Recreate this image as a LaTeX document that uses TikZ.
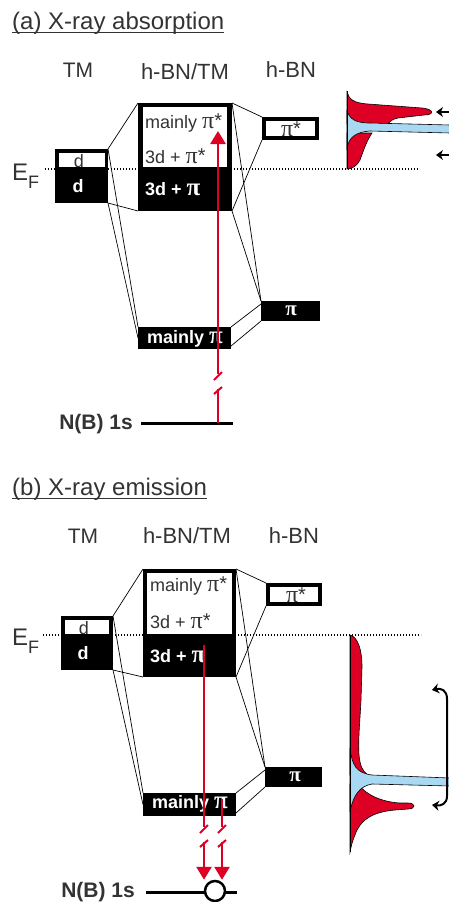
\documentclass[tikz,border=0pt]{standalone}
\usepackage{fontspec}
\setmainfont{Liberation Sans}
\newfontfamily\pifont{Liberation Serif}
\usetikzlibrary{arrows.meta}
\definecolor{xred}{RGB}{222,0,36}
\definecolor{xblue}{RGB}{168,216,242}
\definecolor{txt}{gray}{0.2}
\newcommand{\Fz}[1]{\fontsize{#1}{#1}\selectfont}
\newcommand{\PIs}{{\Fz{24}\pifont π}{\Fz{20}\raisebox{1pt}{*}}}
\newcommand{\PIb}{{\Fz{25}\pifont\bfseries π}}
\tikzset{
 bk/.style={fill=black, draw=none, inner sep=0pt, outer sep=0pt, anchor=north west},
 wh/.style={fill=white, draw=none, inner sep=0pt, outer sep=0pt, anchor=north west},
 conn/.style={line width=0.7pt, black},
 lbl/.style={inner sep=0pt, text=txt},
 wlbl/.style={inner sep=0pt, text=white},
 redl/.style={xred, line width=2.6pt},
 tickl/.style={xred, line width=2pt},
 redtip/.style={-{Triangle[length=13pt,width=15pt]}},
 spec/.style={draw=black, line width=0.6pt},
 ef/.style={line width=1.4pt, dash pattern=on 1.4pt off 1.6pt},
 blk/.style={line width=2.2pt, black, -{Stealth[length=7pt,width=10pt]}},
}
\begin{document}
\begin{tikzpicture}[x=1pt,y=-1pt]
\useasboundingbox (0,0) rectangle (448,902);

%================ (a) =================
\node[lbl, anchor=base west] (tA) at (12,29) {\Fz{24}(a) X-ray absorption};
\draw[txt, line width=0.9pt] ([yshift=-3pt]tA.base west) -- ([yshift=-3pt]tA.base east);
\node[lbl, anchor=base] (l1A) at (78,77) {\Fz{21}TM};
\node[lbl, anchor=base] (l2A) at (185,79) {\Fz{22}h-BN/TM};
\node[lbl, anchor=base] (l3A) at (291,77) {\Fz{22}h-BN};

\node[lbl, anchor=base west] (eA) at (12,180) {\Fz{24}E};
\node[lbl, anchor=base west] (fA) at (28,188) {\Fz{18}F};
\draw[ef] (45,169) -- (419,169);

% spectrum (a)
\fill[xred, spec] (347,92) .. controls (349,99) and (353,103) .. (368,104) -- (422,108)
  .. controls (434,109) and (435,115) .. (424,115) -- (398,118) .. controls (393,119) and (390,121) .. (388,124) -- (347,124) -- cycle;
\fill[xred, spec] (372,133) .. controls (366,142) and (363,152) .. (360,160) .. controls (357,166) and (352,169) .. (347,169) -- (347,133) -- cycle;
\fill[xblue, spec] (347,111) .. controls (350,119) and (355,123) .. (370,123) -- (450,125) -- (450,133) -- (370,131)
  .. controls (356,132) and (349,137) .. (347,148) -- cycle;
\draw[line width=1pt] (347,91) -- (347,169);
\draw[blk] (450,112) -- (436,112);
\draw[blk] (450,155) -- (436,155);

% boxes (a)
\node[bk, minimum width=53, minimum height=54] (tmA) at (55,149) {};
\node[wh, minimum width=46, minimum height=14] (tmAw) at (59,153) {};
\node[bk, minimum width=94, minimum height=108] (cA) at (138,103) {};
\node[wh, minimum width=84, minimum height=60] (cAw) at (143,107) {};
\node[bk, minimum width=57, minimum height=23] (psA) at (262,117) {};
\node[wh, minimum width=49, minimum height=15] (psAw) at (266,121) {};
\node[bk, minimum width=93, minimum height=22] (mpA) at (138,327) {};
\node[bk, minimum width=59, minimum height=20] (pA) at (261,301) {};

\node[lbl, anchor=base] (tdA) at (79,167) {\Fz{18}d};
\node[wlbl, anchor=base] (bdA) at (78,192) {\Fz{18}\bfseries d};
\node[lbl, anchor=base west] (c1A) at (145,128) {\Fz{18}mainly \PIs};
\node[lbl, anchor=base west] (c2A) at (145,163) {\Fz{18}3d + \PIs};
\node[wlbl, anchor=base west] (c3A) at (145,195) {\Fz{18}\bfseries 3d + \PIb};
\node[lbl, anchor=base] (psAt) at (291,136) {\Fz{18}\PIs};
\node[wlbl, anchor=base west] (mpAt) at (147,343) {\Fz{18}\bfseries mainly \PIb};
\node[wlbl, anchor=base] (pAt) at (291,315) {{\Fz{21}\pifont\bfseries π}};

\draw[conn] (tmA.north east) -- (cA.north west);
\draw[conn] (tmA.south east) -- (cA.south west);
\draw[conn] (cA.north east) -- (psA.north west);
\draw[conn] (cA.south east) -- (psA.south west);
\draw[conn] (tmA.north east) -- (mpA.north west);
\draw[conn] (tmA.south east) -- (mpA.west);
\draw[conn] (cA.north east) -- (pA.north west);
\draw[conn] (cA.south east) -- (pA.north west);
\draw[conn] (mpA.north east) -- ([yshift=-3pt]pA.north west);
\draw[conn] ([yshift=3pt]mpA.south east) -- (pA.south west);

% 1s (a)
\node[bk, minimum width=92, minimum height=3, anchor=west] (sA) at (141,423) {};
\node[wlbl, text=txt, anchor=base east] (sAt) at (133,429) {\Fz{21}\bfseries N(B) 1s};
\coordinate (aA0) at (218,423);
\coordinate (aA1) at (218,389);
\coordinate (aA2) at (218,374);
\coordinate (aA3) at (218,131);
\draw[redl] (aA0) -- (aA1);
\draw[redl, redtip] (aA2) -- (aA3);
\draw[tickl] (222,372) -- (214,380);
\draw[tickl] (214,394) -- (222,387);

%================ (b) =================
\node[lbl, anchor=base west] (tB) at (12,495) {\Fz{24}(b) X-ray emission};
\draw[txt, line width=0.9pt] ([yshift=-3pt]tB.base west) -- ([yshift=-3pt]tB.base east);
\node[lbl, anchor=base] (l1B) at (83,543) {\Fz{21}TM};
\node[lbl, anchor=base] (l2B) at (187,543) {\Fz{22}h-BN/TM};
\node[lbl, anchor=base] (l3B) at (294,543) {\Fz{22}h-BN};

\node[lbl, anchor=base west] (eB) at (12,645) {\Fz{24}E};
\node[lbl, anchor=base west] (fB) at (28,653) {\Fz{18}F};
\draw[ef] (43,635) -- (421,635);

% spectrum (b)
\fill[xred, spec] (350,635) .. controls (358,637) and (362,650) .. (362,667) -- (361,700)
  .. controls (360,720) and (358,740) .. (359,755) .. controls (360,765) and (362,771) .. (368,775) -- (350,775) -- cycle;
\fill[xred, spec] (358,784) .. controls (366,795) and (382,802) .. (400,803) -- (408,803)
  .. controls (416,803) and (416,809) .. (408,809) -- (395,810) .. controls (372,812) and (360,820) .. (355,835)
  .. controls (352,842) and (351,847) .. (350,852) -- (350,784) -- cycle;
\fill[xblue, spec] (350,748) .. controls (352,765) and (356,773) .. (372,775) -- (450,778) -- (450,786) -- (372,784)
  .. controls (360,786) and (353,795) .. (350,812) -- cycle;
\draw[line width=1pt] (350,635) -- (350,852);
\draw[line width=2pt, {Stealth[length=7pt,width=10pt]}-{Stealth[length=7pt,width=10pt]}]
  (432,690) .. controls (441,688) and (447,690) .. (447,699) -- (447,796)
  .. controls (447,804) and (441,806) .. (432,805);

% boxes (b)
\node[bk, minimum width=52, minimum height=54] (tmB) at (61,616) {};
\node[wh, minimum width=44, minimum height=14] (tmBw) at (65,620) {};
\node[bk, minimum width=93, minimum height=108] (cB) at (143,569) {};
\node[wh, minimum width=85, minimum height=61] (cBw) at (147,573) {};
\node[bk, minimum width=56, minimum height=23] (psB) at (266,583) {};
\node[wh, minimum width=48, minimum height=15] (psBw) at (270,587) {};
\node[bk, minimum width=93, minimum height=23] (mpB) at (143,793) {};
\node[bk, minimum width=57, minimum height=20] (pB) at (265,767) {};

\node[lbl, anchor=base] (tdB) at (84,634) {\Fz{18}d};
\node[wlbl, anchor=base] (bdB) at (83,659) {\Fz{18}\bfseries d};
\node[lbl, anchor=base west] (c1B) at (150,591) {\Fz{18}mainly \PIs};
\node[lbl, anchor=base west] (c2B) at (150,628) {\Fz{18}3d + \PIs};
\node[wlbl, anchor=base west] (c3B) at (150,662) {\Fz{18}\bfseries 3d + \PIb};
\node[lbl, anchor=base] (psBt) at (296,602) {\Fz{18}\PIs};
\node[wlbl, anchor=base west] (mpBt) at (152,808) {\Fz{18}\bfseries mainly \PIb};
\node[wlbl, anchor=base] (pBt) at (295,781) {{\Fz{21}\pifont\bfseries π}};

\draw[conn] (tmB.north east) -- (cB.north west);
\draw[conn] (tmB.south east) -- (cB.south west);
\draw[conn] (cB.north east) -- (psB.north west);
\draw[conn] (cB.south east) -- (psB.south west);
\draw[conn] (tmB.north east) -- (mpB.north west);
\draw[conn] (tmB.south east) -- (mpB.west);
\draw[conn] (cB.north east) -- (pB.north west);
\draw[conn] (cB.south east) -- (pB.north west);
\draw[conn] (mpB.north east) -- ([yshift=-3pt]pB.north west);
\draw[conn] ([yshift=3pt]mpB.south east) -- (pB.south west);

% 1s (b)
\node[bk, minimum width=91, minimum height=3, anchor=west] (sB) at (146,892) {};
\node[wlbl, text=txt, anchor=base east] (sBt) at (135,897) {\Fz{21}\bfseries N(B) 1s};
\node[circle, draw=black, fill=white, line width=2.5pt, minimum size=20pt, inner sep=0pt] (hole) at (215,891) {};

\coordinate (b1s) at (204,645);
\coordinate (b1e) at (204,827);
\coordinate (b1r) at (204,842);
\coordinate (b2s) at (222,799);
\coordinate (b2e) at (222,827);
\coordinate (b2r) at (222,842);
\draw[redl] (b1s) -- (b1e);
\draw[redl] (b2s) -- (b2e);
\draw[redl, redtip] (b1r) -- (hole.north -| b1r);
\draw[redl, redtip] (b2r) -- (hole.north -| b2r);
\draw[tickl] (208,825) -- (200,833);
\draw[tickl] (200,847) -- (208,840);
\draw[tickl] (226,825) -- (218,833);
\draw[tickl] (218,847) -- (226,840);
\end{tikzpicture}
\end{document}
